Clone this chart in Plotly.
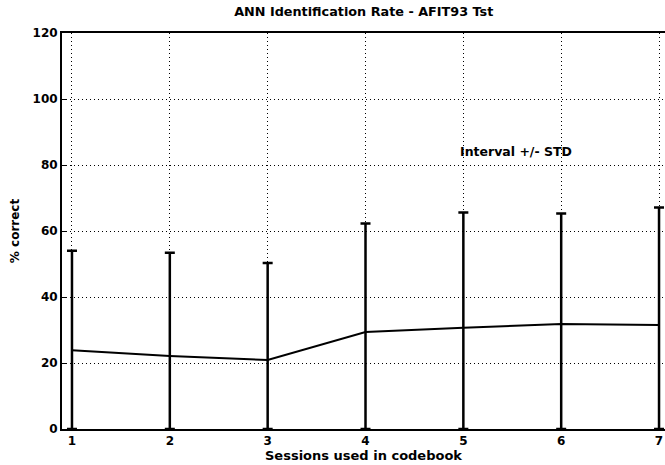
import plotly.graph_objects as go

sessions = [1, 2, 3, 4, 5, 6, 7]
mean_correct = [23.9, 22.1, 20.9, 29.4, 30.7, 31.8, 31.5]
upper_bound = [54.0, 53.4, 50.3, 62.3, 65.6, 65.3, 67.1]
std_dev = [u - m for u, m in zip(upper_bound, mean_correct)]
y_ticks = [0, 20, 40, 60, 80, 100, 120]

FONT = "DejaVu Sans, sans-serif"

fig = go.Figure()
fig.add_trace(go.Scatter(
    x=sessions, y=mean_correct, mode="lines",
    line=dict(color="black", width=2),
    error_y=dict(type="data", array=std_dev, arrayminus=mean_correct, symmetric=False,
                 color="black", thickness=2.5, width=5),
    showlegend=False,
))

fig.add_annotation(x=4.95, y=84, text="Interval +/- STD", showarrow=False,
                   xanchor="left", yanchor="middle",
                   font=dict(family=FONT, size=12.5, color="black", weight="bold"))

fig.update_layout(
    width=665, height=465,
    margin=dict(l=62, r=0, t=33, b=36),
    paper_bgcolor="white", plot_bgcolor="white",
    title=dict(text="ANN Identification Rate - AFIT93 Tst", x=0.547, xanchor="center",
               y=0.975, yanchor="middle",
               font=dict(family=FONT, size=12.8, color="black", weight="bold")),
    font=dict(family=FONT, size=12, color="black"),
)
fig.update_xaxes(
    range=[0.898, 7.061], tickvals=sessions, ticktext=[str(s) for s in sessions],
    showgrid=True, gridcolor="black", gridwidth=1, griddash="1px,3px",
    showline=True, linecolor="black", linewidth=2, mirror=True,
    ticks="inside", ticklen=4, tickcolor="black",
    tickfont=dict(family=FONT, size=12, color="black", weight="bold"),
    zeroline=False,
    title=dict(text="Sessions used in codebook", standoff=0,
               font=dict(family=FONT, size=13, color="black", weight="bold")),
)
fig.update_yaxes(
    range=[0, 120], tickvals=y_ticks,
    showgrid=True, gridcolor="black", gridwidth=1, griddash="1px,3px",
    showline=True, linecolor="black", linewidth=2,
    ticks="inside", ticklen=4, tickcolor="black",
    tickfont=dict(family=FONT, size=12, color="black", weight="bold"),
    zeroline=False,
    title=dict(text="% correct", standoff=10,
               font=dict(family=FONT, size=12, color="black", weight="bold")),
)

fig.write_html("out.html")
